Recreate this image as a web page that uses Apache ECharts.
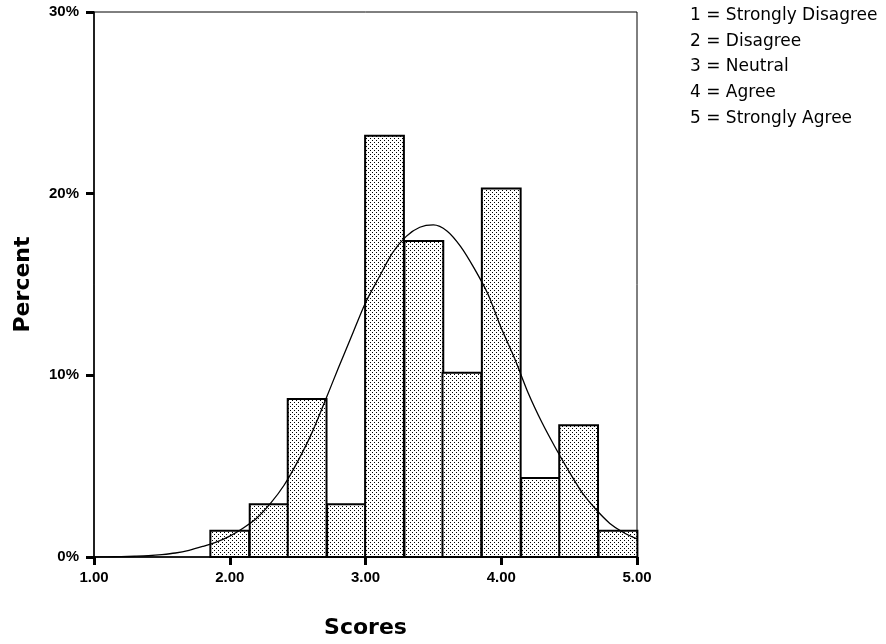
<!DOCTYPE html>
<html>
<head>
<meta charset="utf-8">
<script src="https://cdn.jsdelivr.net/npm/echarts@6/dist/echarts.min.js"></script>
<style>
  html, body { margin: 0; padding: 0; background: #fff; }
  #chart { width: 886px; height: 644px; }
</style>
</head>
<body>
<div id="chart"></div>
<script>
// ---- data ----
const binCenters = [2.00, 2.29, 2.57, 2.86, 3.14, 3.43, 3.71, 4.00, 4.29, 4.57, 4.86];
const binWidth = 0.2857;
const percents = [1.45, 2.90, 8.70, 2.90, 23.19, 17.39, 10.14, 20.29, 4.35, 7.25, 1.45];

// normal curve at steps of 0.1
const curveX = [1.0, 1.1, 1.2, 1.3, 1.4, 1.5, 1.6, 1.7, 1.8, 1.9,
                2.0, 2.1, 2.2, 2.3, 2.4, 2.5, 2.6, 2.7, 2.8, 2.9,
                3.0, 3.1, 3.2, 3.3, 3.4, 3.5, 3.6, 3.7, 3.8, 3.9,
                4.0, 4.1, 4.2, 4.3, 4.4, 4.5, 4.6, 4.7, 4.8, 4.9, 5.0];
const curveY = [0.00, 0.01, 0.02, 0.04, 0.07, 0.13, 0.22, 0.37, 0.58, 0.82,
                1.15, 1.60, 2.15, 2.95, 3.95, 5.25, 6.75, 8.55, 10.4, 12.2,
                14.0, 15.4, 16.75, 17.65, 18.15, 18.28, 17.95, 17.1, 15.9, 14.5,
                12.6, 10.9, 9.0, 7.4, 6.0, 4.7, 3.5, 2.6, 1.85, 1.35, 1.0];

const xTicks = [1, 2, 3, 4, 5];
const yTicks = [0, 10, 20, 30];
const legendLines = ['1 = Strongly Disagree', '2 = Disagree', '3 = Neutral', '4 = Agree', '5 = Strongly Agree'];
const xTitle = 'Scores';
const yTitle = 'Percent';

// ---- dotted fill pattern ----
const tile = document.createElement('canvas');
tile.width = 4; tile.height = 4;
const tctx = tile.getContext('2d');
tctx.fillStyle = '#ffffff';
tctx.fillRect(0, 0, 4, 4);
tctx.fillStyle = '#000000';
tctx.fillRect(0, 0, 1, 1);
tctx.fillRect(2, 2, 1, 1);
const dotPattern = { image: tile, repeat: 'repeat' };

const chart = echarts.init(document.getElementById('chart'), null, { renderer: 'canvas' });

const barData = binCenters.map((c, i) => [c - binWidth / 2, c + binWidth / 2, percents[i]]);
const curveData = curveX.map((x, i) => [x, curveY[i]]);

const tickFont = { fontFamily: 'Liberation Sans', fontWeight: 'bold', fontSize: 15, color: '#000' };
const titleFont = { fontFamily: 'DejaVu Sans', fontWeight: 'bold', fontSize: 22, color: '#000' };

const option = {
  animation: false,
  backgroundColor: '#ffffff',
  grid: {
    left: 94, right: 249, top: 12, bottom: 87,
    show: true, borderColor: '#000', borderWidth: 1, backgroundColor: 'transparent'
  },
  xAxis: {
    type: 'value',
    min: xTicks[0], max: xTicks[xTicks.length - 1], interval: 1,
    name: xTitle, nameLocation: 'middle', nameGap: 60,
    nameTextStyle: titleFont,
    axisLine: { show: true, lineStyle: { color: '#000', width: 1.5 } },
    axisTick: { show: true, length: 8, lineStyle: { color: '#000', width: 3 } },
    axisLabel: Object.assign({ margin: 13, formatter: v => v.toFixed(2) }, tickFont),
    splitLine: { show: false }
  },
  yAxis: {
    type: 'value',
    min: yTicks[0], max: yTicks[yTicks.length - 1], interval: 10,
    name: yTitle, nameLocation: 'middle', nameGap: 60, nameRotate: 90,
    nameTextStyle: titleFont,
    axisLine: { show: true, lineStyle: { color: '#000', width: 1.5 } },
    axisTick: { show: true, length: 8, lineStyle: { color: '#000', width: 3 } },
    axisLabel: Object.assign({ margin: 15, formatter: v => v + '%' }, tickFont),
    splitLine: { show: false }
  },
  series: [
    {
      type: 'custom',
      data: barData,
      encode: { x: [0, 1], y: 2 },
      renderItem: function (params, api) {
        const p0 = api.coord([api.value(0), api.value(2)]);
        const p1 = api.coord([api.value(1), 0]);
        return {
          type: 'rect',
          shape: { x: p0[0], y: p0[1], width: p1[0] - p0[0], height: p1[1] - p0[1] },
          style: { fill: dotPattern, stroke: '#000', lineWidth: 2 }
        };
      },
      z: 2
    },
    {
      type: 'line',
      data: curveData,
      smooth: 0.3,
      showSymbol: false,
      lineStyle: { color: '#000', width: 1.3 },
      z: 3
    }
  ],
  graphic: legendLines.map((t, i) => ({
    type: 'text',
    left: 690,
    top: 7 + i * 25.7,
    style: { text: t, font: '17px "DejaVu Sans"', fill: '#000' }
  }))
};

chart.setOption(option);
</script>
</body>
</html>
